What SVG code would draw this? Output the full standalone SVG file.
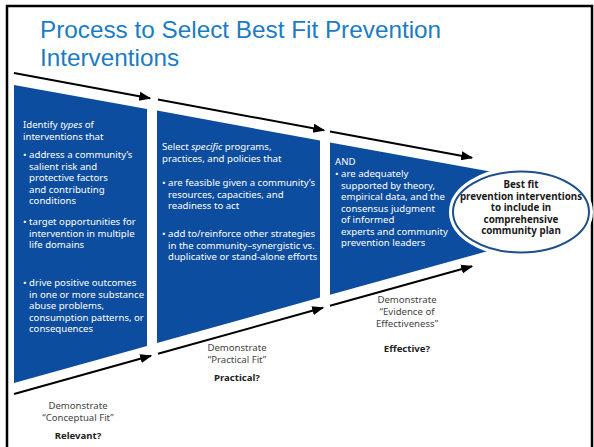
<svg xmlns="http://www.w3.org/2000/svg" width="594" height="447" viewBox="0 0 594 447">
<defs>
<marker id="ah" viewBox="0 0 10 10" refX="9" refY="5" markerWidth="6" markerHeight="6" orient="auto" markerUnits="strokeWidth">
<path d="M0,1.2 L10,5 L0,8.8 Z" fill="#000"/>
</marker>
<style>
.panel{fill:#0d4d9f}
.arr{stroke:#000;stroke-width:2;fill:none;marker-end:url(#ah)}
.t{font-family:"Noto Sans","Open Sans",sans-serif;font-size:9.6px;fill:#fff}
.lab{font-family:"Noto Sans","Open Sans",sans-serif;font-size:9.6px;fill:#444;text-anchor:middle}
.q{font-family:"Noto Sans","Open Sans",sans-serif;font-size:9.6px;font-weight:bold;fill:#222;text-anchor:middle}
.e{font-family:"Noto Sans","Open Sans",sans-serif;font-size:9.8px;font-weight:bold;fill:#1a1a1a;text-anchor:middle}
.title{font-family:"Liberation Sans",Arial,sans-serif;font-size:24.3px;fill:#1b7cc6}
</style>
</defs>
<rect x="0" y="0" width="594" height="447" fill="#fff"/>
<rect x="7" y="6" width="585" height="450" fill="none" stroke="#000" stroke-width="2.5"/>
<text class="title" x="40" y="38">Process to Select Best Fit Prevention</text>
<text class="title" x="40" y="66">Interventions</text>

<g id="panel-conceptual">
<polygon class="panel" points="14,85 147,109 147,346 14,383"/>
<text class="t" x="23" y="128">Identify <tspan font-style="italic">types</tspan> of</text>
<text class="t" x="23" y="139.5">interventions that</text>
<text class="t" x="23" y="158">• address a community’s</text>
<text class="t" x="29" y="169.5">salient risk and</text>
<text class="t" x="29" y="181">protective factors</text>
<text class="t" x="29" y="192.5">and contributing</text>
<text class="t" x="29" y="204">conditions</text>
<text class="t" x="23" y="225">• target opportunities for</text>
<text class="t" x="29" y="236.5">intervention in multiple</text>
<text class="t" x="29" y="248">life domains</text>
<text class="t" x="23" y="286">• drive positive outcomes</text>
<text class="t" x="29" y="297.5">in one or more substance</text>
<text class="t" x="29" y="309">abuse problems,</text>
<text class="t" x="29" y="320.5">consumption patterns, or</text>
<text class="t" x="29" y="332">consequences</text>
<text class="lab" x="78" y="409">Demonstrate</text>
<text class="lab" x="78" y="421">“Conceptual Fit”</text>
<text class="q" x="78" y="439">Relevant?</text>
</g>

<g id="panel-practical">
<polygon class="panel" points="157,110.5 320,140.6 320,297.6 157,343"/>
<text class="t" x="162" y="150">Select <tspan font-style="italic">specific</tspan> programs,</text>
<text class="t" x="162" y="161.5">practices, and policies that</text>
<text class="t" x="162" y="186">• are feasible given a community’s</text>
<text class="t" x="168" y="197.5">resources, capacities, and</text>
<text class="t" x="168" y="209">readiness to act</text>
<text class="t" x="162" y="237">• add to/reinforce other strategies</text>
<text class="t" x="168" y="248.5">in the community–synergistic vs.</text>
<text class="t" x="168" y="260">duplicative or stand-alone efforts</text>
<text class="lab" x="237" y="351">Demonstrate</text>
<text class="lab" x="237" y="363">“Practical Fit”</text>
<text class="q" x="237" y="381">Practical?</text>
</g>

<g id="panel-effective">
<polygon class="panel" points="330,142.5 490,171.5 490,250.5 330,294.8"/>
<text class="t" x="335" y="165">AND</text>
<text class="t" x="335" y="177">• are adequately</text>
<text class="t" x="341" y="188.5">supported by theory,</text>
<text class="t" x="341" y="200">empirical data, and the</text>
<text class="t" x="341" y="211.5">consensus judgment</text>
<text class="t" x="341" y="223">of informed</text>
<text class="t" x="341" y="234.5">experts and community</text>
<text class="t" x="341" y="246">prevention leaders</text>
<text class="lab" x="407" y="303">Demonstrate</text>
<text class="lab" x="407" y="315">“Evidence of</text>
<text class="lab" x="407" y="327">Effectiveness”</text>
<text class="q" x="407" y="352">Effective?</text>
</g>

<g id="best-fit">
<ellipse cx="521" cy="212" rx="68.5" ry="41.5" fill="#fff" stroke="#fff" stroke-width="7"/>
<ellipse cx="521" cy="212" rx="68" ry="40.5" fill="#fff" stroke="#1d4f8c" stroke-width="2"/>
<text class="e" x="521" y="188">Best fit</text>
<text class="e" x="521" y="199.5">prevention interventions</text>
<text class="e" x="521" y="211">to include in</text>
<text class="e" x="521" y="222.5">comprehensive</text>
<text class="e" x="521" y="234">community plan</text>
</g>

<g id="connectors">
<line class="arr" x1="14" y1="73" x2="150" y2="98.2"/>
<line class="arr" x1="158" y1="99.6" x2="324" y2="130.3"/>
<line class="arr" x1="330" y1="131.5" x2="472" y2="157.8"/>
<line class="arr" x1="14" y1="394" x2="151" y2="355.8"/>
<line class="arr" x1="158" y1="353.8" x2="323" y2="307.8"/>
<line class="arr" x1="330" y1="305.8" x2="472" y2="266.2"/>
</g>
</svg>
